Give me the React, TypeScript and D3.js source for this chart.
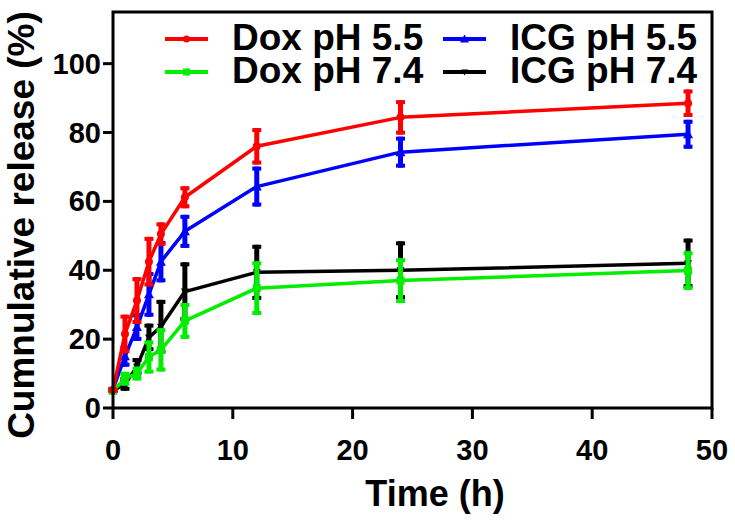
import React from "react";
import * as d3 from "d3";

const times = [0, 1, 2, 3, 4, 6, 12, 24, 48];
const doxPH55 = [5.2, 21.5, 31.2, 42.5, 50.5, 61.2, 76, 84.4, 88.5];
const doxPH55Err = [0.5, 5.6, 6.8, 7.2, 3.4, 3.2, 5.3, 5, 4];
const icgPH55 = [5.5, 15, 23.5, 33, 42.5, 51.3, 64.3, 74.3, 79.5];
const icgPH55Err = [0.5, 3, 4, 6.5, 6, 4.8, 5.8, 4.5, 4.2];
const doxPH74 = [5, 8.5, 10, 14.8, 16.9, 25.3, 34.8, 37, 39.9];
const doxPH74Err = [0.5, 2, 2, 4.8, 6.3, 5.2, 7.8, 6.5, 5.6];
const icgPH74 = [5, 7, 12, 20.5, 23.6, 33.8, 39.4, 40, 42];
const icgPH74Err = [0.5, 2, 2.5, 4, 7.8, 8.5, 8, 8.4, 7.2];

const xTicks = [0, 10, 20, 30, 40, 50];
const yTicks = [0, 20, 40, 60, 80, 100];

type Marker = "circle" | "square" | "triUp" | "triDown";
interface Series {
  name: string;
  values: number[];
  errs: number[];
  color: string;
  marker: Marker;
}

// drawing order bottom -> top
const series: Series[] = [
  { name: "ICG pH 7.4", values: icgPH74, errs: icgPH74Err, color: "#000000", marker: "triDown" },
  { name: "ICG pH 5.5", values: icgPH55, errs: icgPH55Err, color: "#0000ff", marker: "triUp" },
  { name: "Dox pH 7.4", values: doxPH74, errs: doxPH74Err, color: "#00ee00", marker: "square" },
  { name: "Dox pH 5.5", values: doxPH55, errs: doxPH55Err, color: "#ff0000", marker: "circle" },
];

const legendOrder = [
  { s: 3, col: 0, row: 0 },
  { s: 2, col: 0, row: 1 },
  { s: 1, col: 1, row: 0 },
  { s: 0, col: 1, row: 1 },
];

const FONT = "'Liberation Sans', Arial, Helvetica, sans-serif";

function MarkerShape({ type, x, y, color, size }: { type: Marker; x: number; y: number; color: string; size: number }) {
  const h = size / 2;
  if (type === "circle") return <circle cx={x} cy={y} r={h} fill={color} />;
  if (type === "square") return <rect x={x - h} y={y - h} width={size} height={size} fill={color} />;
  if (type === "triUp")
    return <path d={`M${x},${y - h - 1}L${x + h + 1},${y + h}L${x - h - 1},${y + h}Z`} fill={color} />;
  return <path d={`M${x},${y + h}L${x + h},${y - h + 1}L${x - h},${y - h + 1}Z`} fill={color} />;
}

export default function App() {
  const W = 735;
  const H = 523;
  const x = d3.scaleLinear().domain([0, 50]).range([113, 712]);
  const y = d3.scaleLinear().domain([0, 115]).range([408, 12]);
  const line = d3
    .line<[number, number]>()
    .x((d) => x(d[0]))
    .y((d) => y(d[1]));

  const capW = 9;

  return (
    <svg
      width={W}
      height={H}
      style={{ position: "absolute", left: 0, top: 0, background: "#fff" }}
      fontFamily={FONT}
      fontWeight="bold"
    >
      <rect x={0} y={0} width={W} height={H} fill="#fff" />

      {/* data */}
      {series.map((s, si) => (
        <g key={si}>
          <path
            d={line(times.map((t, i) => [t, s.values[i]] as [number, number])) || ""}
            fill="none"
            stroke={s.color}
            strokeWidth={3.5}
            strokeLinejoin="round"
          />
          {times.map((t, i) => {
            const cx = x(t);
            const top = y(s.values[i] + s.errs[i]);
            const bot = y(s.values[i] - s.errs[i]);
            return (
              <g key={i}>
                <line x1={cx} x2={cx} y1={top} y2={bot} stroke={s.color} strokeWidth={5} />
                <line x1={cx - capW / 2} x2={cx + capW / 2} y1={top + 2} y2={top + 2} stroke={s.color} strokeWidth={4} />
                <line x1={cx - capW / 2} x2={cx + capW / 2} y1={bot - 2} y2={bot - 2} stroke={s.color} strokeWidth={4} />
                <MarkerShape type={s.marker} x={cx} y={y(s.values[i])} color={s.color} size={8} />
              </g>
            );
          })}
        </g>
      ))}

      {/* frame */}
      <path
        d={`M${x(0)},${y(0)}L${x(0)},${y(115)}L${x(50)},${y(115)}L${x(50)},${y(0)}Z`}
        fill="none"
        stroke="#000"
        strokeWidth={3}
      />

      {/* x ticks */}
      {xTicks.map((t) => (
        <g key={t}>
          <line x1={x(t)} x2={x(t)} y1={y(0)} y2={y(0) + 11} stroke="#000" strokeWidth={3} />
          <text x={x(t)} y={460} textAnchor="middle" fontSize={29} fill="#000">
            {t}
          </text>
        </g>
      ))}

      {/* y ticks */}
      {yTicks.map((t) => (
        <g key={t}>
          <line x1={x(0) - 10} x2={x(0)} y1={y(t)} y2={y(t)} stroke="#000" strokeWidth={3} />
          <text x={101} y={y(t) + 10} textAnchor="end" fontSize={29} fill="#000">
            {t}
          </text>
        </g>
      ))}

      {/* axis titles */}
      <text x={435} y={506} textAnchor="middle" fontSize={36} fill="#000">
        Time (h)
      </text>
      <text
        transform={`translate(34,225) rotate(-90)`}
        textAnchor="middle"
        fontSize={37}
        fill="#000"
      >
        Cumnulative release (%)
      </text>

      {/* legend */}
      {legendOrder.map((l, k) => {
        const s = series[l.s];
        const lx = l.col === 0 ? 165 : 443;
        const ly = l.row === 0 ? 39 : 72;
        const tx = l.col === 0 ? 232 : 510;
        return (
          <g key={k}>
            <line x1={lx} x2={lx + 43} y1={ly} y2={ly} stroke={s.color} strokeWidth={4} />
            <MarkerShape type={s.marker} x={lx + 21.5} y={ly} color={s.color} size={7} />
            <text x={tx} y={ly + 11} fontSize={37} fill="#000">
              {s.name}
            </text>
          </g>
        );
      })}
    </svg>
  );
}
